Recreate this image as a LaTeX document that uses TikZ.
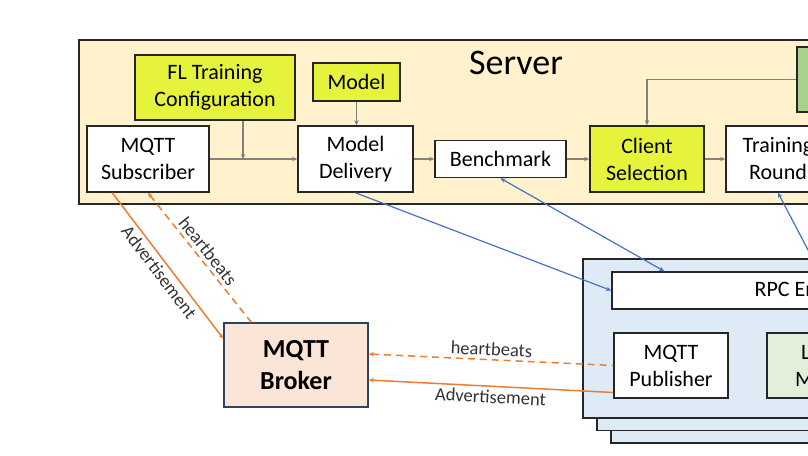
\documentclass[tikz,border=0pt]{standalone}
\usepackage{fontspec}
\setmainfont{Carlito}
\usetikzlibrary{arrows.meta}
\definecolor{fundoservidor}{HTML}{FFF2CC}
\definecolor{limao}{HTML}{E6F33C}
\definecolor{verde}{HTML}{A9D18E}
\definecolor{verdeclaro}{HTML}{E2F0D9}
\definecolor{fundocliente}{HTML}{DEEBF7}
\definecolor{salmao}{HTML}{FBE5D6}
\definecolor{ardosia}{HTML}{2F4460}
\definecolor{azullinha}{HTML}{4472C4}
\definecolor{laranjalinha}{HTML}{ED7D31}
\begin{document}
\begin{tikzpicture}[
                x=1pt, y=-1pt,
                >={Stealth[length=5pt, width=4.5pt]},
                caixa/.style={shape=rectangle, draw=black!85, line width=1.6pt, fill=white, inner sep=0pt, align=center, font=\fontsize{22}{27}\selectfont},
                seta/.style={draw=black!50, line width=1.6pt, ->},
                ligacao/.style={draw=azullinha, line width=1.2pt},
                mensagem/.style={draw=laranjalinha, line width=1.5pt},
                tracejada/.style={dash pattern=on 7pt off 5pt},
                rotulo/.style={font=\fontsize{18.5}{22}\selectfont, text=black!80},
            ]
            \useasboundingbox (0, 0) rectangle (808, 455);
            \clip (0, 0) rectangle (808, 455);

            \node[caixa, fill=fundoservidor, line width=2.2pt, minimum width=820pt, minimum height=164pt] (srv) at (489, 122) {};
            \node[font=\fontsize{36}{40}\selectfont] (titulo) at (516, 63) {Server};
            \node[caixa, fill=limao, minimum width=160pt, minimum height=65pt] (cfg) at (215, 87.5) {FL Training\\Configuration};
            \node[caixa, fill=limao, minimum width=87pt, minimum height=38pt] (mdl) at (356.5, 82) {Model};
            \node[caixa, minimum width=122pt, minimum height=66pt] (sub) at (148, 159) {MQTT\\Subscriber};
            \node[caixa, minimum width=115pt, minimum height=66pt] (dlv) at (355.5, 159) {Model\\Delivery};
            \node[caixa, minimum width=131pt, minimum height=37pt] (bench) at (500.5, 159) {Benchmark};
            \node[caixa, fill=limao, minimum width=114pt, minimum height=66pt] (sel) at (647, 159) {Client\\Selection};
            \node[caixa, minimum width=104pt, minimum height=66pt] (rnd) at (778, 159) {Training\\Round};
            \node[caixa, fill=verde, minimum width=116pt, minimum height=65pt] (grn) at (855, 79.5) {};
            \coordinate (j1) at (243, 159);

            \node[caixa, fill=fundocliente, minimum width=460pt, minimum height=159pt] (cli3) at (841, 363.5) {};
            \node[caixa, fill=fundocliente, minimum width=460pt, minimum height=159pt] (cli2) at (827, 351) {};
            \node[caixa, fill=fundocliente, minimum width=460pt, minimum height=159pt] (cli1) at (813, 338.5) {};
            \node[caixa, minimum width=406pt, minimum height=37pt] (rpc) at (815, 290.5) {RPC Endpoint};
            \node[caixa, minimum width=114pt, minimum height=65pt] (pub) at (671, 365.5) {MQTT\\Publisher};
            \node[caixa, fill=verdeclaro, minimum width=114pt, minimum height=65pt] (loc) at (824, 365.5) {Local\\Model};

            \node[caixa, fill=salmao, draw=ardosia, minimum width=144pt, minimum height=84pt, font=\bfseries\fontsize{26}{32}\selectfont] (brk) at (296, 365) {MQTT\\Broker};

            \draw[seta] (sub) -- (dlv);
            \draw[seta] (cfg.south -| j1) -- (j1);
            \draw[seta] (mdl.south) -- (mdl.south |- dlv.north);
            \draw[seta] (dlv) -- (bench);
            \draw[seta] (bench) -- (sel);
            \draw[seta] (sel) -- (rnd);
            \draw[seta] (grn.west) -| (sel.north);

            \draw[ligacao, ->] (dlv.south) -- (rpc.west);
            \draw[ligacao, <->] (bench.south) -- ([xshift=53pt]rpc.north west);
            \draw[ligacao, <->] (rnd.south) -- ([xshift=208pt]rpc.north west);

            \draw[mensagem, ->] ([xshift=26pt]sub.south west) -- node[rotulo, sloped, below] {Advertisement} (brk.160);
            \draw[mensagem, tracejada, <-] (sub.south) -- node[rotulo, sloped, above] {heartbeats} ([xshift=28pt]brk.north west);
            \draw[mensagem, tracejada, <-] ([yshift=11pt]brk.east) -- node[rotulo, sloped, above] {heartbeats} (pub.west);
            \draw[mensagem, <-] ([yshift=-15pt]brk.east) -- node[rotulo, sloped, below] {Advertisement} ([yshift=-27pt]pub.west);
        \end{tikzpicture}
\end{document}
